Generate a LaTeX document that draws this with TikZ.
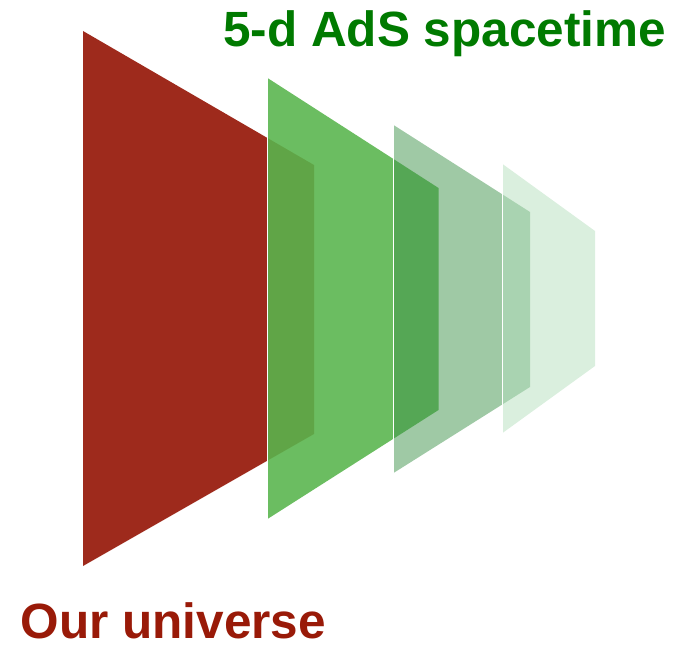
\documentclass[tikz,border=0pt]{standalone}
\usepackage{fontspec}
\setmainfont{Liberation Sans}
\definecolor{univred}{RGB}{158,42,28}
\definecolor{univtext}{RGB}{153,26,8}
\definecolor{adstext}{RGB}{0,122,0}
\definecolor{gA}{RGB}{89,181,77}
\definecolor{gB}{RGB}{63,147,75}
\definecolor{gC}{RGB}{181,223,189}
\tikzset{
  slab/.style={draw=none},
  edgeline/.style={draw=white,line width=1.7pt},
  lbl/.style={inner sep=0pt,anchor=base west,font=\bfseries\fontsize{49.5}{58}\selectfont}
}
\begin{document}
\begin{tikzpicture}[x=1pt,y=-1pt]
\useasboundingbox (0,0) rectangle (678,647);
% our universe
\fill[univred,slab] (83,31) -- (314,165) -- (314,434) -- (83,566) -- cycle;
% first bulk slice
\fill[gA,fill opacity=0.89,slab] (267.5,78) -- (438.5,188) -- (438.5,410) -- (267.5,519) -- cycle;
\draw[edgeline] (267.5,78) -- (267.5,519);
% second bulk slice
\fill[gB,fill opacity=0.5,slab] (393.5,125) -- (530,212) -- (530,387) -- (393.5,473) -- cycle;
\draw[edgeline] (393.5,125) -- (393.5,473);
% third bulk slice
\fill[gC,fill opacity=0.5,slab] (502.5,164) -- (595,231) -- (595,366) -- (502.5,433) -- cycle;
\draw[edgeline] (502.5,164) -- (502.5,433);
% labels
\node[lbl,text=adstext] (ads) at (223,47) {5-d AdS spacetime};
\node[lbl,text=univtext] (univ) at (20.5,638.5) {Our universe};
\end{tikzpicture}
\end{document}
